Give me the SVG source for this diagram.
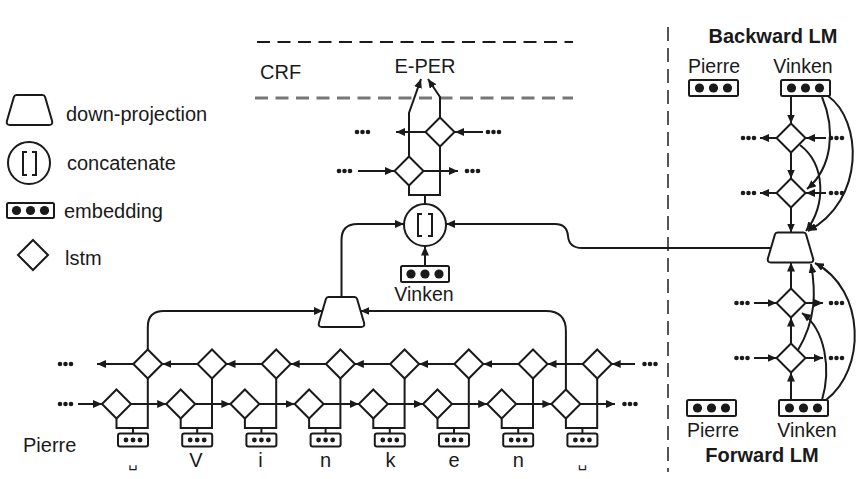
<svg xmlns="http://www.w3.org/2000/svg" width="865" height="479" viewBox="0 0 865 479">
<style>
.ln{stroke:#1a1a1a;stroke-width:2;fill:none}
.ar{marker-end:url(#ah)}
.sh{fill:#fff;stroke:#1a1a1a;stroke-width:2}
.em{fill:#fff;stroke:#1a1a1a;stroke-width:2}
.d{fill:#1a1a1a}
.t{font-family:"Liberation Sans",Arial,sans-serif;font-size:20px;fill:#1a1a1a}
.s{font-size:19.5px}
.b{font-weight:bold;font-size:20px}
.m{text-anchor:middle}
.sp{font-family:"DejaVu Sans",sans-serif;font-size:15px;fill:#1a1a1a;text-anchor:middle}
</style>
<defs>
<marker id="ah" markerUnits="userSpaceOnUse" markerWidth="10" markerHeight="8" refX="9" refY="4" orient="auto"><path d="M0,0 L9,4 L0,8 z" fill="#1a1a1a"/></marker>
<path id="dia" d="M0,-14.5 L14.5,0 L0,14.5 L-14.5,0 Z"/>
<path id="trap" d="M-13,-15 H13 Q15,-15 15.6,-13 L22.6,11 Q23.5,15 19.5,15 H-19.5 Q-23.5,15 -22.6,11 L-15.6,-13 Q-15,-15 -13,-15 Z"/>
<g id="dots3"><circle cx="-5.5" cy="0" r="2.3"/><circle cx="0" cy="0" r="2.3"/><circle cx="5.5" cy="0" r="2.3"/></g>
<g id="bigdots"><circle cx="-14" cy="0" r="4.6"/><circle cx="0" cy="0" r="4.6"/><circle cx="14" cy="0" r="4.6"/></g>
<g id="smalldots"><circle cx="-7" cy="0" r="2.4"/><circle cx="0" cy="0" r="2.4"/><circle cx="7" cy="0" r="2.4"/></g>
</defs>
<rect width="865" height="479" fill="#fff"/>

<g id="separators">
<line x1="257" y1="42" x2="573" y2="42" stroke="#1a1a1a" stroke-width="2" stroke-dasharray="13 7.5"/>
<line x1="255" y1="98" x2="573" y2="98" stroke="#777" stroke-width="3" stroke-dasharray="13 7.5"/>
<line x1="668" y1="27" x2="668" y2="472" stroke="#555" stroke-width="2" stroke-dasharray="14 7"/>
</g>

<g id="legend">
<use href="#trap" x="29.5" y="110" class="sh"/>
<text class="t" x="66" y="121">down-projection</text>
<circle cx="29" cy="163" r="21" class="sh"/>
<path class="ln" d="M27,152 H23 V175 H27 M32,152 H36 V175 H32"/>
<text class="t" x="67" y="170">concatenate</text>
<rect x="7" y="203" width="47" height="15" rx="1.5" class="em"/>
<use href="#bigdots" x="30.5" y="210.5" class="d"/>
<text class="t" x="64" y="218">embedding</text>
<path class="sh" d="M33,240 L48,255 L33,270 L18,255 Z"/>
<text class="t" x="65" y="265">lstm</text>
</g>

<g id="connectors">
<path class="ln ar" d="M78,404 H102"/>
<path class="ln ar" d="M131,404 H166.2"/>
<path class="ln ar" d="M195.2,404 H230.4"/>
<path class="ln ar" d="M259.4,404 H294.6"/>
<path class="ln ar" d="M323.6,404 H358.8"/>
<path class="ln ar" d="M387.8,404 H423"/>
<path class="ln ar" d="M452,404 H487.2"/>
<path class="ln ar" d="M516.2,404 H551.4"/>
<path class="ln ar" d="M580.4,404 H615"/>
<path class="ln ar" d="M133.3,364 H97"/>
<path class="ln ar" d="M197.5,364 H162.3"/>
<path class="ln ar" d="M261.7,364 H226.5"/>
<path class="ln ar" d="M325.9,364 H290.7"/>
<path class="ln ar" d="M390.1,364 H354.9"/>
<path class="ln ar" d="M454.3,364 H419.1"/>
<path class="ln ar" d="M518.5,364 H483.3"/>
<path class="ln ar" d="M582.7,364 H547.5"/>
<path class="ln ar" d="M635,364 H611.7"/>
<path class="ln" d="M116.5,418.5 V428 H147.8 V378.5 M133,428 V433"/>
<path class="ln" d="M180.7,418.5 V428 H212 V378.5 M197.2,428 V433"/>
<path class="ln" d="M244.9,418.5 V428 H276.2 V378.5 M261.4,428 V433"/>
<path class="ln" d="M309.1,418.5 V428 H340.4 V378.5 M325.6,428 V433"/>
<path class="ln" d="M373.3,418.5 V428 H404.6 V378.5 M389.8,428 V433"/>
<path class="ln" d="M437.5,418.5 V428 H468.8 V378.5 M454,428 V433"/>
<path class="ln" d="M501.7,418.5 V428 H533 V378.5 M518.2,428 V433"/>
<path class="ln" d="M565.9,418.5 V428 H597.2 V378.5 M582.4,428 V433"/>
<path class="ln ar" d="M147.8,349.5 V327 Q147.8,311 163.8,311 H322.8"/>
<path class="ln ar" d="M565.9,389.5 V331 Q565.9,311 545.9,311 H360.4"/>
<path class="ln ar" d="M341.5,297 V240 Q341.5,224 357.5,224 H404"/>
<path class="ln ar" d="M771.4,248 H582 Q569,248 568,236 Q567,224 555,224 H446"/>
<path class="ln ar" d="M425,266 V246.5"/>
<path class="ln" d="M409,185.5 V195 H440 V146.5 M425,195 V204"/>
<path class="ln ar" d="M409,156.5 V113 L421,79"/>
<path class="ln ar" d="M440,117.5 V97 L428,79"/>
<path class="ln ar" d="M358,171 H394"/>
<path class="ln ar" d="M423.5,171 H458"/>
<path class="ln ar" d="M483,132 H455"/>
<path class="ln ar" d="M425.5,132 H396"/>
<path class="ln ar" d="M791,96 V123.5"/>
<path class="ln ar" d="M791,152.5 V178.5"/>
<path class="ln ar" d="M791,207.5 V232.5"/>
<path class="ln ar" d="M776.5,138 H760"/>
<path class="ln ar" d="M826,138 H806"/>
<path class="ln ar" d="M776.5,193 H760"/>
<path class="ln ar" d="M826,193 H806"/>
<path class="ln ar" d="M828,96 C862,120 866,200 808,231"/>
<path class="ln ar" d="M822,97 C836,130 832,168 807,189"/>
<path class="ln ar" d="M800,145 C826,165 826,205 806,231"/>
<path class="ln ar" d="M791,400 V372.5"/>
<path class="ln ar" d="M791,343.5 V317.5"/>
<path class="ln ar" d="M791,288.5 V262.5"/>
<path class="ln ar" d="M754,303 H776.5"/>
<path class="ln ar" d="M805.5,303 H823"/>
<path class="ln ar" d="M754,358 H776.5"/>
<path class="ln ar" d="M805.5,358 H823"/>
<path class="ln ar" d="M826,400 C866,370 866,290 815,263"/>
<path class="ln ar" d="M822,400 C831,370 826,330 802,313"/>
<path class="ln ar" d="M798,350 C816,320 816,292 811,264"/>
</g>

<g id="ellipses" class="d">
<use href="#dots3" x="65.5" y="404"/>
<use href="#dots3" x="65.5" y="364"/>
<use href="#dots3" x="630" y="404"/>
<use href="#dots3" x="650" y="364"/>
<use href="#dots3" x="344.5" y="171"/>
<use href="#dots3" x="472.5" y="171"/>
<use href="#dots3" x="362.5" y="132"/>
<use href="#dots3" x="493.5" y="132"/>
<use href="#dots3" x="748.5" y="138"/>
<use href="#dots3" x="836.5" y="138"/>
<use href="#dots3" x="748.5" y="193"/>
<use href="#dots3" x="836.5" y="193"/>
<use href="#dots3" x="742" y="303"/>
<use href="#dots3" x="836.5" y="303"/>
<use href="#dots3" x="742" y="358"/>
<use href="#dots3" x="836.5" y="358"/>
</g>

<g id="cell0"><use href="#dia" x="116.5" y="404" class="sh"/><use href="#dia" x="147.8" y="364" class="sh"/><rect x="118" y="433.5" width="30" height="13" rx="2" class="em"/><use href="#smalldots" x="133" y="440" class="d"/><text class="sp" x="133" y="467">␣</text></g>
<g id="cell1"><use href="#dia" x="180.7" y="404" class="sh"/><use href="#dia" x="212" y="364" class="sh"/><rect x="182.2" y="433.5" width="30" height="13" rx="2" class="em"/><use href="#smalldots" x="197.2" y="440" class="d"/><text class="t m" x="196" y="467">V</text></g>
<g id="cell2"><use href="#dia" x="244.9" y="404" class="sh"/><use href="#dia" x="276.2" y="364" class="sh"/><rect x="246.4" y="433.5" width="30" height="13" rx="2" class="em"/><use href="#smalldots" x="261.4" y="440" class="d"/><text class="t m" x="260.5" y="467">i</text></g>
<g id="cell3"><use href="#dia" x="309.1" y="404" class="sh"/><use href="#dia" x="340.4" y="364" class="sh"/><rect x="310.6" y="433.5" width="30" height="13" rx="2" class="em"/><use href="#smalldots" x="325.6" y="440" class="d"/><text class="t m" x="325.6" y="467">n</text></g>
<g id="cell4"><use href="#dia" x="373.3" y="404" class="sh"/><use href="#dia" x="404.6" y="364" class="sh"/><rect x="374.8" y="433.5" width="30" height="13" rx="2" class="em"/><use href="#smalldots" x="389.8" y="440" class="d"/><text class="t m" x="390.5" y="467">k</text></g>
<g id="cell5"><use href="#dia" x="437.5" y="404" class="sh"/><use href="#dia" x="468.8" y="364" class="sh"/><rect x="439" y="433.5" width="30" height="13" rx="2" class="em"/><use href="#smalldots" x="454" y="440" class="d"/><text class="t m" x="454" y="467">e</text></g>
<g id="cell6"><use href="#dia" x="501.7" y="404" class="sh"/><use href="#dia" x="533" y="364" class="sh"/><rect x="503.2" y="433.5" width="30" height="13" rx="2" class="em"/><use href="#smalldots" x="518.2" y="440" class="d"/><text class="t m" x="518.2" y="467">n</text></g>
<g id="cell7"><use href="#dia" x="565.9" y="404" class="sh"/><use href="#dia" x="597.2" y="364" class="sh"/><rect x="567.4" y="433.5" width="30" height="13" rx="2" class="em"/><use href="#smalldots" x="582.4" y="440" class="d"/><text class="sp" x="582.4" y="467">␣</text></g>

<g id="word-pierre"><text class="t" x="23" y="452">Pierre</text></g>

<g id="downproj"><use href="#trap" x="341.5" y="312" class="sh"/></g>

<g id="concat">
<circle cx="425" cy="225" r="21" class="sh"/>
<path class="ln" d="M422,214 H418 V236 H422 M428,214 H432 V236 H428"/>
</g>

<g id="word-emb">
<rect x="401" y="266" width="48" height="16" rx="1.5" class="em"/>
<use href="#bigdots" x="425" y="274" class="d"/>
<text class="t s m" x="424" y="301">Vinken</text>
</g>

<g id="crf-lstm">
<use href="#dia" x="409" y="171" class="sh"/>
<use href="#dia" x="440" y="132" class="sh"/>
</g>

<g id="crf">
<text class="t" x="260" y="79">CRF</text>
<text class="t m" x="425" y="73">E-PER</text>
</g>

<g id="backward-lm">
<text class="t b m" x="773" y="43">Backward LM</text>
<text class="t s m" x="714" y="73">Pierre</text>
<text class="t s m" x="803" y="73">Vinken</text>
<rect x="689" y="80" width="49" height="16" rx="1.5" class="em"/>
<use href="#bigdots" x="713.5" y="88" class="d"/>
<rect x="781" y="80" width="49" height="16" rx="1.5" class="em"/>
<use href="#bigdots" x="805.5" y="88" class="d"/>
<use href="#dia" x="791" y="138" class="sh"/>
<use href="#dia" x="791" y="193" class="sh"/>
</g>

<g id="lm-downproj"><use href="#trap" x="790.5" y="247.5" class="sh"/></g>

<g id="forward-lm">
<use href="#dia" x="791" y="303" class="sh"/>
<use href="#dia" x="791" y="358" class="sh"/>
<rect x="687" y="400" width="49" height="16" rx="1.5" class="em"/>
<use href="#bigdots" x="711.5" y="408" class="d"/>
<rect x="779" y="400" width="49" height="16" rx="1.5" class="em"/>
<use href="#bigdots" x="803.5" y="408" class="d"/>
<text class="t s m" x="713" y="437">Pierre</text>
<text class="t s m" x="807" y="437">Vinken</text>
<text class="t b m" x="762" y="462">Forward LM</text>
</g>
</svg>
